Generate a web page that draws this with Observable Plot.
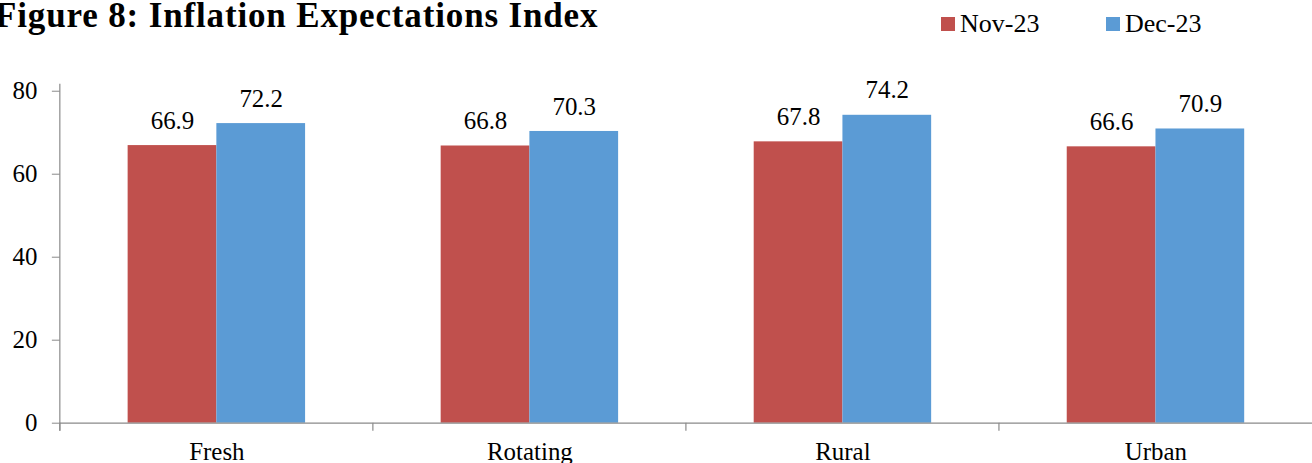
<!DOCTYPE html>
<html>
<head>
<meta charset="utf-8">
<script src="https://cdn.jsdelivr.net/npm/d3@7"></script>
<script src="https://cdn.jsdelivr.net/npm/@observablehq/plot@0.6"></script>
<style>
  html, body { margin: 0; padding: 0; background: #fff; overflow: hidden; }
  #wrap { position: relative; width: 1312px; height: 463px; overflow: hidden;
          font-family: 'Liberation Serif', 'Times New Roman', serif; color: #000; }
  #title { position: absolute; left: -5px; top: -4px; font-size: 35px; font-weight: bold;
           letter-spacing: 0.85px; white-space: nowrap; }
  #legend { position: absolute; left: 941px; top: 9px; font-size: 26px; white-space: nowrap; }
  .item { position: absolute; top: 0; display: flex; align-items: center; }
  .sw { width: 14px; height: 14px; margin-right: 5px; }
  #chart { position: absolute; left: 0; top: 0; }
  #chart svg, #chart svg text { font-family: 'Liberation Serif', 'Times New Roman', serif; }
</style>
</head>
<body>
<div id="wrap">
  <div id="chart"></div>
  <div id="title">Figure 8: Inflation Expectations Index</div>
  <div id="legend"></div>
</div>
<script>
const categories = ["Fresh", "Rotating", "Rural", "Urban"];
const seriesNames = ["Nov-23", "Dec-23"];
const nov23 = [66.9, 66.8, 67.8, 66.6];
const dec23 = [72.2, 70.3, 74.2, 70.9];
const yTicks = [0, 20, 40, 60, 80];
const colors = ["#C0504D", "#5B9BD5"];

const rows = categories.flatMap((c, i) => [
  {category: c, series: seriesNames[0], value: nov23[i]},
  {category: c, series: seriesNames[1], value: dec23[i]}
]);

const chart = Plot.plot({
  width: 1316, height: 463,
  marginLeft: 60, marginRight: 0, marginTop: 91, marginBottom: 39,
  style: {fontFamily: "'Liberation Serif', serif", fontSize: "25px", color: "#000", background: "transparent", overflow: "visible"},
  fx: {domain: categories, padding: 0, label: null, axis: null},
  x: {domain: seriesNames, paddingInner: 0, paddingOuter: 0.754, axis: null},
  y: {domain: [0, 80], axis: null},
  color: {domain: seriesNames, range: colors},
  marks: [
    Plot.barY(rows, {fx: "category", x: "series", y: "value", fill: "series"}),
    Plot.text(rows, {fx: "category", x: "series", y: "value", text: d => d.value.toFixed(1),
                     lineAnchor: "middle", dy: -25, fill: "#000"}),
    Plot.ruleY([0], {stroke: "#8a8a8a", strokeWidth: 1.2}),
    Plot.axisFx({anchor: "bottom", label: null, tickSize: 0, tickPadding: 19, fill: "#000"}),
    Plot.axisY(yTicks, {tickSize: 8, tickPadding: 15, stroke: "#8a8a8a", fill: "#000", label: null, tickFormat: d => String(d)})
  ]
});

// Axis line and category-boundary ticks, placed with the plot's own scales
const fx = chart.scale("fx"), y = chart.scale("y");
const g = d3.select(chart).append("g").attr("stroke", "#8a8a8a").attr("stroke-width", 1.2);
const x0 = fx.apply(categories[0]);
g.append("line").attr("x1", x0).attr("x2", x0).attr("y1", y.apply(80) - 7).attr("y2", y.apply(0) + 8);
categories.forEach(c => {
  const xs = fx.apply(c);
  g.append("line").attr("x1", xs).attr("x2", xs).attr("y1", y.apply(0)).attr("y2", y.apply(0) + 8);
});
document.getElementById("chart").appendChild(chart);

// Legend
const legend = document.getElementById("legend");
const offsets = [0, 165];
seriesNames.forEach((s, i) => {
  const it = document.createElement("div");
  it.className = "item";
  it.style.left = offsets[i] + "px";
  it.innerHTML = `<span class="sw" style="background:${colors[i]}"></span><span>${s}</span>`;
  legend.appendChild(it);
});
</script>
</body>
</html>
